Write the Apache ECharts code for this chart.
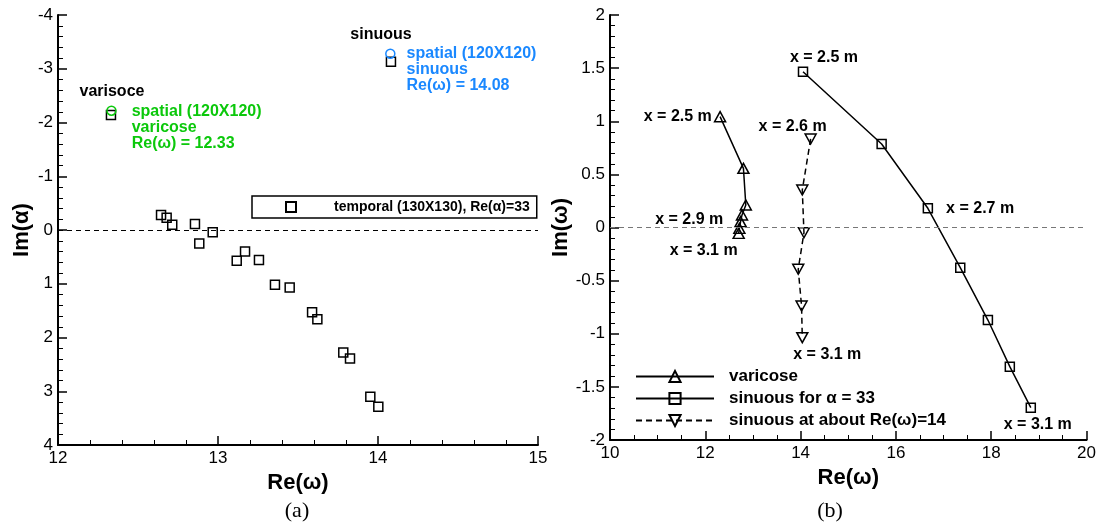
<!DOCTYPE html>
<html>
<head>
<meta charset="utf-8">
<title>temporal / spatial</title>
<script src="https://cdn.jsdelivr.net/npm/echarts@6/dist/echarts.min.js"></script>
<style>
    html, body { margin: 0; padding: 0; background: #fff; }
    #main { width: 1099px; height: 529px; }
</style>
</head>
<body>
<div id="main"></div>
<script>
// (a) temporal results, Re(omega) vs Im(alpha)
var temporalRe = [12.644, 12.679, 12.714, 12.856, 12.967, 12.883, 13.169, 13.117, 13.256,
    13.356, 13.448, 13.588, 13.621, 13.783, 13.825, 13.952, 14.002, 12.331, 14.081];
var temporalIm = [-0.28, -0.23, -0.10, -0.11, 0.04, 0.25, 0.40, 0.57, 0.56,
    1.02, 1.07, 1.53, 1.66, 2.28, 2.39, 3.10, 3.29, -2.14, -3.13];
// spatial points
var spatialVarRe = [12.334], spatialVarIm = [-2.22];
var spatialSinRe = [14.077], spatialSinIm = [-3.28];

// (b) Re(omega) vs Im(omega) along x
var varicoseRe = [12.31, 12.80, 12.85, 12.77, 12.74, 12.715, 12.70];
var varicoseIm = [1.043, 0.557, 0.212, 0.118, 0.055, -0.008, -0.055];
var sinuousRe = [14.05, 15.70, 16.67, 17.35, 17.93, 18.39, 18.83];
var sinuousIm = [1.466, 0.786, 0.181, -0.378, -0.871, -1.31, -1.696];
var sinuous14Re = [14.21, 14.035, 14.07, 13.95, 14.02, 14.035];
var sinuous14Im = [0.833, 0.353, -0.049, -0.393, -0.739, -1.037];

var names = {
    temporal: 'temporal (130X130), Re(\u03b1)=33',
    varicose: 'varicose',
    sinuous: 'sinuous for \u03b1 = 33',
    sinuous14: 'sinuous at about Re(\u03c9)=14'
};

var font = '"Liberation Sans", Arial, Helvetica, sans-serif';
var green = '#0bc80b';
var blue = '#1a88ff';

function zip(xs, ys) {
    var out = [];
    for (var i = 0; i < xs.length; i++) {
        out.push({ value: [xs[i], ys[i]] });
    }
    return out;
}

function note(item, text, position, offset, color, extra) {
    item.label = {
        show: true,
        formatter: text,
        position: position,
        offset: offset,
        distance: 5,
        color: color || '#000',
        fontFamily: font,
        fontWeight: 'bold',
        fontSize: 16
    };
    if (extra) {
        for (var k in extra) item.label[k] = extra[k];
    }
}

var temporalData = zip(temporalRe, temporalIm);
var spatialVarData = zip(spatialVarRe, spatialVarIm);
var spatialSinData = zip(spatialSinRe, spatialSinIm);
var varicoseData = zip(varicoseRe, varicoseIm);
var sinuousData = zip(sinuousRe, sinuousIm);
var sinuous14Data = zip(sinuous14Re, sinuous14Im);

// text next to the points
note(temporalData[17], 'varisoce', 'top', [1, -5]);
note(temporalData[18], 'sinuous', 'top', [-10, -9]);
note(spatialVarData[0], 'spatial (120X120)\nvaricose\nRe(\u03c9) = 12.33', 'right', [10, 17], green, { lineHeight: 16 });
note(spatialSinData[0], 'spatial (120X120)\nsinuous\nRe(\u03c9) = 14.08', 'right', [6, 16], blue, { lineHeight: 16 });

note(varicoseData[0], 'x = 2.5 m', 'left', [3, 0]);
note(varicoseData[4], 'x = 2.9 m', 'left', [-6, -2]);
note(varicoseData[6], 'x = 3.1 m', 'bottom', [-35, -1]);
note(sinuousData[0], 'x = 2.5 m', 'top', [21, 4]);
note(sinuousData[2], 'x = 2.7 m', 'right', [8, 0]);
note(sinuousData[6], 'x = 3.1 m', 'bottom', [7, -1]);
note(sinuous14Data[0], 'x = 2.6 m', 'top', [-18, 6]);
note(sinuous14Data[5], 'x = 3.1 m', 'bottom', [25, -2]);

var hollow = { color: 'rgba(0,0,0,0)', borderColor: '#000', borderWidth: 1.5, opacity: 1 };
var downTriangle = 'path://M0,0L10,0L5,9Z';

function axisCommon(opt) {
    var base = {
        axisLine: { show: true, onZero: false, lineStyle: { color: '#000', width: 2 } },
        axisTick: { show: true, inside: true, length: 9, lineStyle: { color: '#000', width: 1.5 } },
        splitLine: { show: false },
        axisLabel: { color: '#000', fontFamily: font, fontSize: 17, margin: 5 },
        nameLocation: 'middle',
        nameTextStyle: { color: '#000', fontFamily: font, fontSize: 22, fontWeight: 'bold' }
    };
    for (var k in opt) base[k] = opt[k];
    return base;
}

function minor(n) {
    return { show: true, splitNumber: n, length: 5, lineStyle: { color: '#000', width: 1 } };
}

var chart = echarts.init(document.getElementById('main'));

var option = {
    animation: false,
    backgroundColor: '#fff',
    grid: [
        { left: 58, top: 15, width: 480, height: 430 },
        { left: 610, top: 15, width: 478, height: 425 }
    ],
    xAxis: [
        axisCommon({ gridIndex: 0, type: 'value', min: 12, max: 15, interval: 1, name: 'Re(\u03c9)', nameGap: 19, minorTick: minor(5) }),
        axisCommon({ gridIndex: 1, type: 'value', min: 10, max: 20, interval: 2, name: 'Re(\u03c9)', nameGap: 19, minorTick: minor(4) })
    ],
    yAxis: [
        axisCommon({ gridIndex: 0, type: 'value', min: -4, max: 4, interval: 1, inverse: true, name: 'Im(\u03b1)', nameGap: 25, minorTick: minor(5) }),
        axisCommon({ gridIndex: 1, type: 'value', min: -2, max: 2, interval: 0.5, name: 'Im(\u03c9)', nameGap: 25, minorTick: minor(5) })
    ],
    legend: [
        {
            left: 252, top: 196, padding: [4, 7, 4, 33],
            itemWidth: 10, itemHeight: 10,
            borderColor: '#000', borderWidth: 1.5,
            selectedMode: false,
            data: [names.temporal],
            textStyle: { color: '#000', fontFamily: font, fontWeight: 'bold', fontSize: 14, padding: [0, 0, 0, 33] }
        },
        {
            orient: 'vertical', left: 630, top: 363,
            itemWidth: 78, itemHeight: 14, itemGap: 5,
            selectedMode: false,
            data: [names.varicose, names.sinuous, names.sinuous14],
            textStyle: { color: '#000', fontFamily: font, fontWeight: 'bold', fontSize: 17, padding: [0, 0, 0, 10] }
        }
    ],
    graphic: [
        { type: 'text', x: 297, y: 511, style: { text: '(a)', fontFamily: '"Liberation Serif", serif', fontSize: 22, align: 'center', verticalAlign: 'middle', fill: '#000' } },
        { type: 'text', x: 830, y: 511, style: { text: '(b)', fontFamily: '"Liberation Serif", serif', fontSize: 22, align: 'center', verticalAlign: 'middle', fill: '#000' } }
    ],
    series: [
        {
            name: names.temporal,
            type: 'scatter',
            xAxisIndex: 0, yAxisIndex: 0,
            symbol: 'rect', symbolSize: 9,
            itemStyle: hollow,
            emphasis: { disabled: true },
            data: temporalData,
            markLine: {
                silent: true, symbol: 'none', label: { show: false },
                lineStyle: { color: '#000', type: [5, 4], width: 1 },
                data: [{ yAxis: 0 }]
            }
        },
        {
            name: 'spatial varicose',
            type: 'scatter',
            xAxisIndex: 0, yAxisIndex: 0,
            symbol: 'circle', symbolSize: 9,
            itemStyle: { color: 'rgba(0,0,0,0)', borderColor: green, borderWidth: 1.5, opacity: 1 },
            emphasis: { disabled: true },
            data: spatialVarData
        },
        {
            name: 'spatial sinuous',
            type: 'scatter',
            xAxisIndex: 0, yAxisIndex: 0,
            symbol: 'circle', symbolSize: 9,
            itemStyle: { color: 'rgba(0,0,0,0)', borderColor: blue, borderWidth: 1.5, opacity: 1 },
            emphasis: { disabled: true },
            data: spatialSinData
        },
        {
            name: names.varicose,
            type: 'line',
            xAxisIndex: 1, yAxisIndex: 1,
            symbol: 'triangle', symbolSize: [11, 10],
            showSymbol: true, showAllSymbol: true,
            lineStyle: { color: '#000', width: 1.5 },
            itemStyle: hollow,
            emphasis: { disabled: true },
            data: varicoseData,
            markLine: {
                silent: true, symbol: 'none', label: { show: false },
                lineStyle: { color: '#777', type: [5, 4], width: 1 },
                data: [{ yAxis: 0 }]
            }
        },
        {
            name: names.sinuous,
            type: 'line',
            xAxisIndex: 1, yAxisIndex: 1,
            symbol: 'rect', symbolSize: 9,
            showSymbol: true, showAllSymbol: true,
            lineStyle: { color: '#000', width: 1.5 },
            itemStyle: hollow,
            emphasis: { disabled: true },
            data: sinuousData
        },
        {
            name: names.sinuous14,
            type: 'line',
            xAxisIndex: 1, yAxisIndex: 1,
            symbol: downTriangle, symbolSize: [11, 10],
            showSymbol: true, showAllSymbol: true,
            lineStyle: { color: '#000', width: 1.5, type: [6, 4] },
            itemStyle: hollow,
            emphasis: { disabled: true },
            data: sinuous14Data
        }
    ]
};

chart.setOption(option);
</script>
</body>
</html>
